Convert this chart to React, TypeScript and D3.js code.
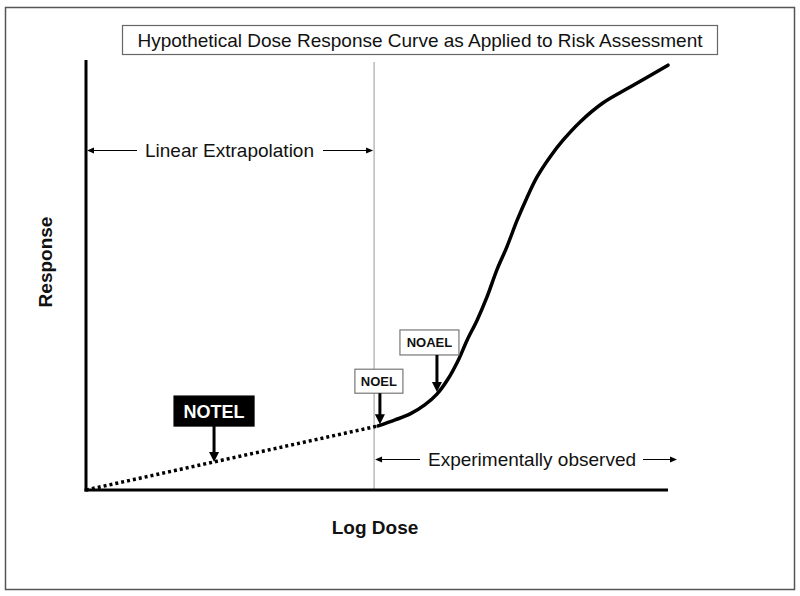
import React from "react";
import * as d3 from "d3";

// ---- data ----
const extrapDose = [0, 5.02];
const extrapResponse = [0, 14.9];
const observedDose = [5.02, 5.31, 5.57, 5.82, 6.03, 6.22, 6.39, 6.55, 6.72, 6.89, 7.06, 7.23, 7.41, 7.58, 7.75, 7.97, 8.2, 8.49, 8.88, 9.35, 10.0];
const observedResponse = [14.9, 16.3, 17.7, 19.8, 22.3, 25.8, 30.0, 34.9, 39.5, 44.9, 51.2, 56.5, 62.8, 68.1, 72.8, 77.4, 81.4, 85.6, 90.0, 93.7, 98.8];
const markerNames = ["NOTEL", "NOEL", "NOAEL"];
const markerDose = [2.2, 5.05, 6.03];
const markerResponse = [6.5, 15.3, 22.8];
const boundaryDose = 4.95;
const title = "Hypothetical Dose Response Curve as Applied to Risk Assessment";
const xLabel = "Log Dose";
const yLabel = "Response";
const leftRegion = "Linear Extrapolation";
const rightRegion = "Experimentally observed";

const W = 800, H = 596;
const FONT = "Arial, 'Liberation Sans', sans-serif";

export default function App() {
  const x = d3.scaleLinear().domain([0, 10]).range([86, 668]);
  const y = d3.scaleLinear().domain([0, 100]).range([490, 60]);
  const line = d3.line<[number, number]>().x(d => x(d[0])).y(d => y(d[1]));
  const curve = d3.line<[number, number]>().x(d => x(d[0])).y(d => y(d[1])).curve(d3.curveCatmullRom.alpha(0.5));
  const extrapPts = extrapDose.map((d, i) => [d, extrapResponse[i]] as [number, number]);
  const obsPts = observedDose.map((d, i) => [d, observedResponse[i]] as [number, number]);

  // marker label styles
  const boxes = [
    { dx: 0, w: 80, h: 30, top: 36, len: 36, fs: 18, dark: true },
    { dx: -1, w: 48, h: 24, top: 31, len: 31, fs: 13, dark: false },
    { dx: -7.5, w: 59, h: 25, top: 37, len: 37, fs: 13, dark: false },
  ];

  const hArrow = (x1: number, x2: number, yy: number, key: string) => {
    const dir = x2 > x1 ? 1 : -1;
    return (
      <g key={key}>
        <line x1={x1} y1={yy} x2={x2 - dir * 5} y2={yy} stroke="#000" strokeWidth={1} />
        <path d={`M${x2},${yy} L${x2 - dir * 7},${yy - 3} L${x2 - dir * 7},${yy + 3} Z`} fill="#000" />
      </g>
    );
  };

  const xb = x(boundaryDose);
  const yBase = y(0);

  return (
    <svg width={W} height={H} style={{ position: "absolute", left: 0, top: 0, background: "#fff" }} fontFamily={FONT}>
      <rect x={0} y={0} width={W} height={H} fill="#fff" />
      <rect x={5.5} y={7.5} width={789} height={582} fill="none" stroke="#555" strokeWidth={1.5} />

      {/* title box */}
      <rect x={122.5} y={25.5} width={595} height={29} fill="#fff" stroke="#666" strokeWidth={1.2} />
      <text x={420} y={47} fontSize={19} textAnchor="middle" fill="#111">{title}</text>

      {/* boundary line */}
      <line x1={xb} y1={y(100) + 2} x2={xb} y2={yBase} stroke="#999" strokeWidth={1} />

      {/* axes */}
      <line x1={x(0)} y1={y(100)} x2={x(0)} y2={yBase + 1.5} stroke="#000" strokeWidth={3} />
      <line x1={x(0) - 1.5} y1={yBase} x2={x(10)} y2={yBase} stroke="#000" strokeWidth={3} />

      {/* curves */}
      <path d={line(extrapPts) || ""} fill="none" stroke="#000" strokeWidth={3.5} strokeDasharray="3,3" />
      <path d={curve(obsPts) || ""} fill="none" stroke="#000" strokeWidth={3.5} strokeLinecap="round" />

      {/* region labels */}
      {hArrow(137, x(0) + 1, 150.5, "l1")}
      {hArrow(323, xb - 1, 150.5, "l2")}
      <text x={229.5} y={157} fontSize={19} textAnchor="middle" fill="#111">{leftRegion}</text>
      {hArrow(420, xb + 1, 459.5, "r1")}
      {hArrow(643, 677, 459.5, "r2")}
      <text x={532} y={466} fontSize={19} textAnchor="middle" fill="#111">{rightRegion}</text>

      {/* markers */}
      {markerNames.map((name, i) => {
        const b = boxes[i];
        const tx = x(markerDose[i]);
        const ty = y(markerResponse[i]);
        const boxBottom = ty - b.top;
        const cx = tx + b.dx;
        return (
          <g key={name}>
            <rect x={cx - b.w / 2} y={boxBottom - b.h} width={b.w} height={b.h}
              fill={b.dark ? "#000" : "#fff"} stroke={b.dark ? "#000" : "#777"} strokeWidth={1.2} />
            <text x={cx} y={boxBottom - b.h / 2 + b.fs * 0.36} fontSize={b.fs} fontWeight="bold"
              textAnchor="middle" fill={b.dark ? "#fff" : "#111"}>{name}</text>
            <line x1={tx} y1={boxBottom} x2={tx} y2={ty - 8} stroke="#000" strokeWidth={3} />
            <path d={`M${tx},${ty} L${tx - 5},${ty - 10} L${tx + 5},${ty - 10} Z`} fill="#000" />
          </g>
        );
      })}

      {/* axis titles */}
      <text x={375} y={534} fontSize={19} fontWeight="bold" textAnchor="middle" fill="#111">{xLabel}</text>
      <text transform="translate(52,262) rotate(-90)" fontSize={19} fontWeight="bold" textAnchor="middle" fill="#111">{yLabel}</text>
    </svg>
  );
}
